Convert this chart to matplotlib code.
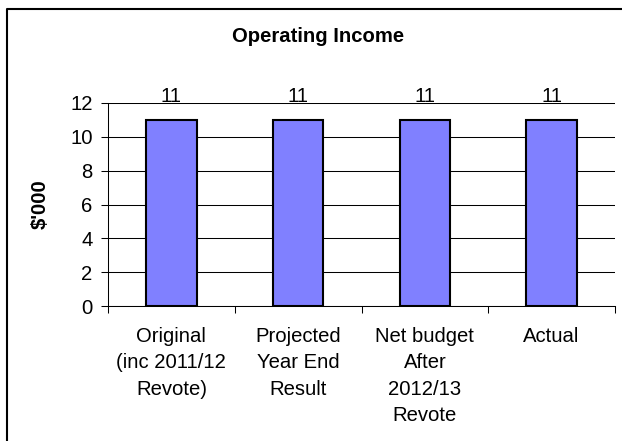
import matplotlib
matplotlib.use("Agg")
from matplotlib import pyplot as plt
from matplotlib.lines import Line2D
import numpy as np

categories = ["Original\n(inc 2011/12\nRevote)", "Projected\nYear End\nResult",
              "Net budget\nAfter\n2012/13\nRevote", "Actual"]
values = [11, 11, 11, 11]
yticks = [0, 2, 4, 6, 8, 10, 12]

plt.rcParams['font.family'] = ['Liberation Sans', 'DejaVu Sans']
fs = 14.6

fig = plt.figure(figsize=(6.22, 4.41), dpi=100)
# chart frame: only the top and left edges are visible in the picture
fig.add_artist(Line2D([7 / 622, 7 / 622, 1], [0, 1 - 9 / 441, 1 - 9 / 441],
                      transform=fig.transFigure, color='black', linewidth=1.5))

ax = fig.add_axes([108 / 622, 1 - 306 / 441, 507 / 622, 203 / 441])
x = np.arange(len(categories))
ax.bar(x, values, width=0.4, color='#8080FF', edgecolor='black',
       linewidth=1.5, zorder=3)

for xi, v in zip(x, values):
    ax.annotate(str(v), (xi, v), xytext=(0, 13.2), textcoords='offset points',
                ha='center', va='baseline', fontsize=fs)

ax.set_xlim(-0.5, 3.5)
ax.set_ylim(0, 12)
ax.set_yticks(yticks)
ax.yaxis.grid(True, color='black', linewidth=0.75, zorder=0)
ax.set_axisbelow(True)
ax.set_xticks(np.arange(-0.5, 3.6, 1.0))
ax.set_xticklabels([])
ax.set_xticks(x, minor=True)
ax.set_xticklabels(categories, minor=True, fontsize=fs, linespacing=1.5)
ax.tick_params(axis='x', which='minor', length=0, pad=15)
ax.tick_params(axis='x', which='major', length=5, width=0.75, direction='out')
ax.tick_params(axis='y', length=5, width=0.75, labelsize=fs, pad=6)
for s in ['top', 'right']:
    ax.spines[s].set_visible(False)
for s in ['left', 'bottom']:
    ax.spines[s].set_linewidth(0.75)

ax.set_ylabel("$'000", fontsize=fs, fontweight='bold', labelpad=15)
fig.text(318 / 622, 1 - 37 / 441, "Operating Income", ha='center', va='center',
         fontsize=fs, fontweight='bold')

fig.savefig("out.png", dpi=100)
